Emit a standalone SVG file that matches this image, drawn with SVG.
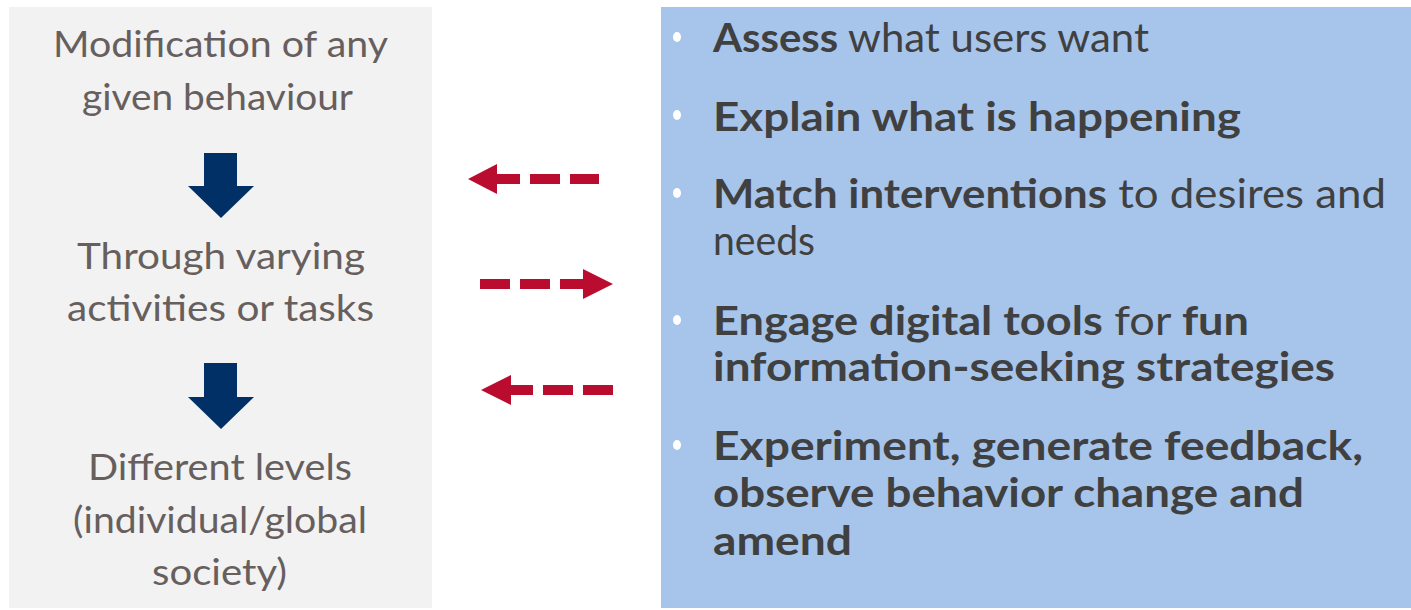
<svg xmlns="http://www.w3.org/2000/svg" width="1411" height="610" viewBox="0 0 1411 610">
<style>
.lt{font-family:Lato,"Open Sans","Liberation Sans",sans-serif;font-size:37px;fill:#675F5E;text-anchor:start}
.rt{font-family:Lato,"Open Sans","Liberation Sans",sans-serif;font-size:40px;fill:#404040}
.b{font-weight:700}
.red{fill:#BA0C2F}
.navy{fill:#003066}
.dot{fill:#FFFFFF}
</style>
<rect width="1411" height="610" fill="#FFFFFF"/>
<g id="left-panel">
<rect x="9" y="7" width="423" height="601" fill="#F2F2F2"/>
<g id="node-modification">
<text class="lt" x="53" y="57" textLength="335" lengthAdjust="spacingAndGlyphs">Modification of any</text>
<text class="lt" x="82" y="110" textLength="271" lengthAdjust="spacingAndGlyphs">given behaviour</text>
</g>
<g id="node-through">
<text class="lt" x="77" y="269" textLength="288" lengthAdjust="spacingAndGlyphs">Through varying</text>
<text class="lt" x="67" y="321" textLength="307" lengthAdjust="spacingAndGlyphs">activities or tasks</text>
</g>
<g id="node-levels">
<text class="lt" x="88" y="480" textLength="264" lengthAdjust="spacingAndGlyphs">Different levels</text>
<text class="lt" x="73" y="533" textLength="294" lengthAdjust="spacingAndGlyphs">(individual/global</text>
<text class="lt" x="152" y="585" textLength="135" lengthAdjust="spacingAndGlyphs">society)</text>
</g>
</g>
<g id="right-panel">
<rect x="661" y="7" width="750" height="601" fill="#A7C5EB"/>
<g id="item-assess">
<ellipse class="dot" cx="677" cy="37" rx="4" ry="5"/>
<text class="rt" x="713" y="52" textLength="436" lengthAdjust="spacingAndGlyphs"><tspan class="b">Assess</tspan> what users want</text>
</g>
<g id="item-explain">
<ellipse class="dot" cx="677" cy="115" rx="4" ry="5"/>
<text class="rt b" x="713" y="131" textLength="528" lengthAdjust="spacingAndGlyphs">Explain what is happening</text>
</g>
<g id="item-match">
<ellipse class="dot" cx="677" cy="193" rx="4" ry="5"/>
<text class="rt" x="713" y="208" textLength="673" lengthAdjust="spacingAndGlyphs"><tspan class="b">Match interventions</tspan> to desires and</text>
<text class="rt" x="713" y="255" textLength="102" lengthAdjust="spacingAndGlyphs">needs</text>
</g>
<g id="item-engage">
<ellipse class="dot" cx="677" cy="320" rx="4" ry="5"/>
<text class="rt" x="713" y="335" textLength="536" lengthAdjust="spacingAndGlyphs"><tspan class="b">Engage digital tools</tspan> for <tspan class="b">fun</tspan></text>
<text class="rt b" x="713" y="381" textLength="622" lengthAdjust="spacingAndGlyphs">information-seeking strategies</text>
</g>
<g id="item-experiment">
<ellipse class="dot" cx="677" cy="445" rx="4" ry="5"/>
<text class="rt b" x="713" y="460" textLength="650" lengthAdjust="spacingAndGlyphs">Experiment, generate feedback,</text>
<text class="rt b" x="713" y="507" textLength="591" lengthAdjust="spacingAndGlyphs">observe behavior change and</text>
<text class="rt b" x="713" y="555" textLength="139" lengthAdjust="spacingAndGlyphs">amend</text>
</g>
</g>
<g id="connectors">
<polygon class="navy" points="204,153 237,153 237,186 254,186 221,218 188,186 204,186"/>
<polygon class="navy" points="204,363 237,363 237,397 254,397 221,429 188,397 204,397"/>
<g id="arrow-left-1">
<polygon class="red" points="468,179 497,164 497,194"/>
<rect class="red" x="497" y="174" width="23" height="10"/>
<rect class="red" x="530" y="174" width="30" height="10"/>
<rect class="red" x="570" y="174" width="29" height="10"/>
</g>
<g id="arrow-right">
<rect class="red" x="480" y="279" width="30" height="10"/>
<rect class="red" x="520" y="279" width="30" height="10"/>
<rect class="red" x="560" y="279" width="23" height="10"/>
<polygon class="red" points="613,284 583,269 583,299"/>
</g>
<g id="arrow-left-2">
<polygon class="red" points="481,390 511,375 511,405"/>
<rect class="red" x="511" y="385" width="22" height="10"/>
<rect class="red" x="543" y="385" width="30" height="10"/>
<rect class="red" x="583" y="385" width="30" height="10"/>
</g>
</g>
</svg>
